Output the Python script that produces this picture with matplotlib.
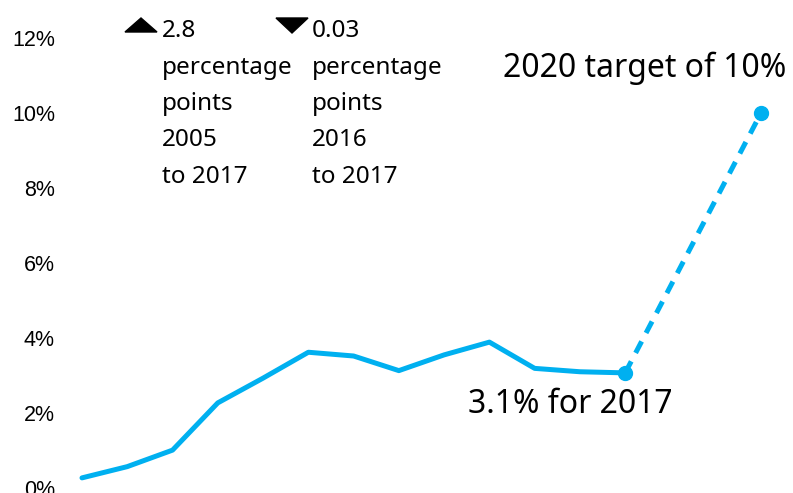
import matplotlib
matplotlib.use('Agg')
import matplotlib.pyplot as plt
from matplotlib.patches import Polygon

# dados
anos = [2005, 2006, 2007, 2008, 2009, 2010, 2011, 2012, 2013, 2014, 2015, 2016, 2017]
valores = [0.27, 0.57, 1.01, 2.27, 2.93, 3.62, 3.52, 3.13, 3.55, 3.89, 3.19, 3.10, 3.07]
meta_anos = [2017, 2020]
meta_valores = [3.07, 10.0]
yticks = [0, 2, 4, 6, 8, 10, 12]
ytick_labels = ['0%', '2%', '4%', '6%', '8%', '10%', '12%']

texto_esq = ['2.8', 'percentage', 'points', '2005', 'to 2017']
texto_dir = ['0.03', 'percentage', 'points', '2016', 'to 2017']

azul = '#00B0F0'
W, H = 793, 493

fig = plt.figure(figsize=(W / 100, H / 100), dpi=100)
ax = fig.add_axes([82 / W, 5 / H, (761 - 82) / W, 450 / H])
ax.set_xlim(2005, 2020)
ax.set_ylim(0, 12)

ax.plot(anos, valores, color=azul, lw=3.6, solid_capstyle='round', clip_on=False)
ax.plot(meta_anos, meta_valores, color=azul, lw=3.6, ls=(0, (2.6, 1.9)), clip_on=False)
ax.plot(meta_anos, meta_valores, 'o', color=azul, ms=10, clip_on=False)

for s in ax.spines.values():
    s.set_visible(False)
ax.set_xticks([])
ax.set_yticks(yticks)
ax.set_yticklabels(ytick_labels, fontfamily='Liberation Sans', fontsize=15.5)
ax.tick_params(axis='y', length=0, pad=19.5)

fonte = 'Noto Sans'
peso = 'medium'

def px(x, y):
    return x / W, 1 - y / H

# blocos de texto no topo
for i, linha in enumerate(texto_esq):
    fig.text(*px(162, 37 + i * 36.5), linha, fontfamily=fonte, fontsize=17.5,
             fontweight=peso, va='baseline')
for i, linha in enumerate(texto_dir):
    fig.text(*px(312, 37 + i * 36.5), linha, fontfamily=fonte, fontsize=17.5,
             fontweight=peso, va='baseline')

# triângulos
fig.patches.append(Polygon([px(125, 32), px(157, 32), px(141, 18)], closed=True,
                           transform=fig.transFigure, color='black'))
fig.patches.append(Polygon([px(276, 18), px(308, 18), px(292, 33)], closed=True,
                           transform=fig.transFigure, color='black'))

fig.text(*px(503, 77), '2020 target of 10%', fontfamily=fonte, fontsize=23,
         fontweight=peso, va='baseline')
fig.text(*px(468, 413), '3.1% for 2017', fontfamily=fonte, fontsize=23,
         fontweight=peso, va='baseline')

fig.savefig('out.png', dpi=100)
